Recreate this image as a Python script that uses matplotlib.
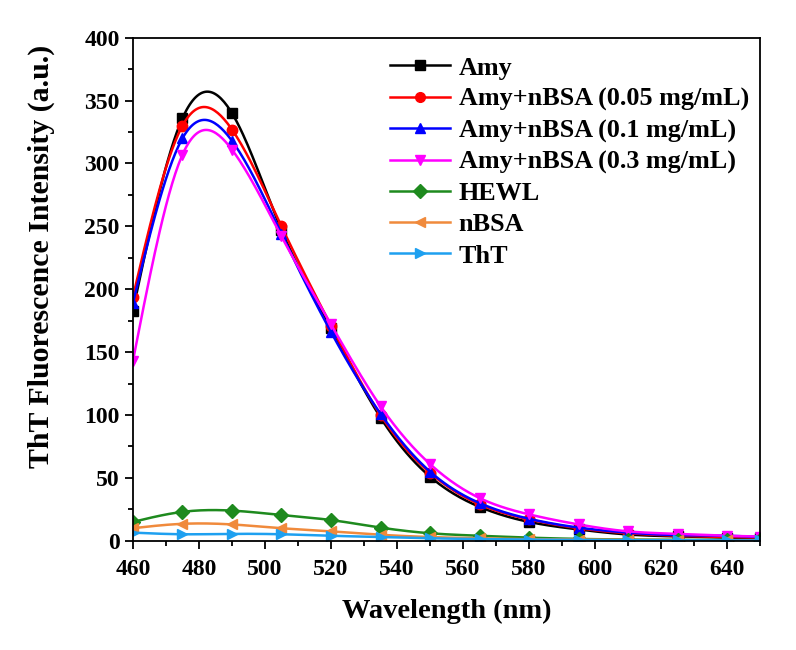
import numpy as np
import matplotlib
matplotlib.use('Agg')
import matplotlib.pyplot as plt
from matplotlib.ticker import MultipleLocator

plt.rcParams['font.family'] = ['Liberation Serif', 'DejaVu Serif']
plt.rcParams['font.weight'] = 'bold'

# emission spectra, sampled every 15 nm
wavelength = [460, 475, 490, 505, 520, 535, 550, 565, 580, 595, 610, 625, 640, 650]
amy = [183, 336, 340, 247, 169, 98, 51, 27, 15, 9, 5, 3.5, 2.5, 2]
amy_005 = [194, 330, 327, 250, 171, 100, 54, 29, 17, 10, 6, 4, 3, 2.5]
amy_01 = [189, 320, 318, 244, 166, 101, 55, 30, 17.5, 10.5, 6.5, 4.5, 4, 3]
amy_03 = [143, 307, 311, 242, 172, 107, 61, 34, 21, 13, 7.5, 5.5, 4, 3.4]
hewl = [15, 23, 24, 20.5, 16.5, 10.5, 6, 4, 2.5, 1.5, 1, 0.8, 0.6, 0.5]
nbsa = [10, 13.5, 13, 10, 7.5, 4.8, 3, 2, 1.3, 1, 0.7, 0.5, 0.4, 0.3]
tht = [6.5, 5.2, 5.5, 5.2, 4, 3, 2, 1.4, 1, 0.7, 0.5, 0.4, 0.3, 0.3]

labels = ['Amy', 'Amy+nBSA (0.05 mg/mL)', 'Amy+nBSA (0.1 mg/mL)',
          'Amy+nBSA (0.3 mg/mL)', 'HEWL', 'nBSA', 'ThT']
colors = ['#000000', '#FF0000', '#0000FF', '#FF00FF', '#1E8A1E', '#F08A3C', '#1EA0F0']
markers = ['s', 'o', '^', 'v', 'D', '<', '>']


def spline(x, y, n=400):
    # natural cubic spline through the points
    x = np.asarray(x, float)
    y = np.asarray(y, float)
    h = np.diff(x)
    m = len(x)
    A = np.zeros((m, m))
    b = np.zeros(m)
    A[0, 0] = A[-1, -1] = 1
    for i in range(1, m - 1):
        A[i, i - 1] = h[i - 1]
        A[i, i] = 2 * (h[i - 1] + h[i])
        A[i, i + 1] = h[i]
        b[i] = 6 * ((y[i + 1] - y[i]) / h[i] - (y[i] - y[i - 1]) / h[i - 1])
    M = np.linalg.solve(A, b)
    xs = np.linspace(x[0], x[-1], n)
    k = np.clip(np.searchsorted(x, xs) - 1, 0, m - 2)
    t0 = x[k + 1] - xs
    t1 = xs - x[k]
    ys = (M[k] * t0**3 + M[k + 1] * t1**3) / (6 * h[k]) \
        + (y[k] / h[k] - M[k] * h[k] / 6) * t0 \
        + (y[k + 1] / h[k] - M[k + 1] * h[k] / 6) * t1
    return xs, ys


fig = plt.figure(figsize=(7.96, 6.5), dpi=100)
ax = fig.add_axes([0.167, 0.168, 0.788, 0.774])

series = [amy, amy_005, amy_01, amy_03, hewl, nbsa, tht]
for ys, lab, c, mk in zip(series, labels, colors, markers):
    sx, sy = spline(wavelength, ys)
    ax.plot(sx, sy, color=c, lw=1.8)
    ax.plot(wavelength, ys, ls='none', marker=mk, color=c, ms=7.5)
    ax.plot([], [], color=c, lw=1.8, marker=mk, ms=7, label=lab)

ax.set_xlim(460, 650)
ax.set_ylim(0, 400)
ax.xaxis.set_major_locator(MultipleLocator(20))
ax.xaxis.set_minor_locator(MultipleLocator(10))
ax.yaxis.set_major_locator(MultipleLocator(50))
ax.yaxis.set_minor_locator(MultipleLocator(25))
ax.tick_params(which='both', direction='out', top=False, right=False, width=1.3)
ax.tick_params(which='major', length=6, labelsize=17)
ax.tick_params(axis='x', which='major', pad=7)
ax.tick_params(which='minor', length=3.5)
for sp in ax.spines.values():
    sp.set_linewidth(1.3)

ax.set_xlabel('Wavelength (nm)', fontsize=20.5, fontweight='bold', labelpad=14)
ax.set_ylabel('ThT Fluorescence Intensity (a.u.)', fontsize=21.5, fontweight='bold')
ax.yaxis.set_label_coords(-0.124, 0.565)

ax.legend(loc='upper left', bbox_to_anchor=(0.41, 0.963), frameon=False,
          fontsize=18.8, handlelength=2.3, handletextpad=0.33, labelspacing=0.3,
          borderpad=0, borderaxespad=0)

fig.savefig('out.png', dpi=100)
